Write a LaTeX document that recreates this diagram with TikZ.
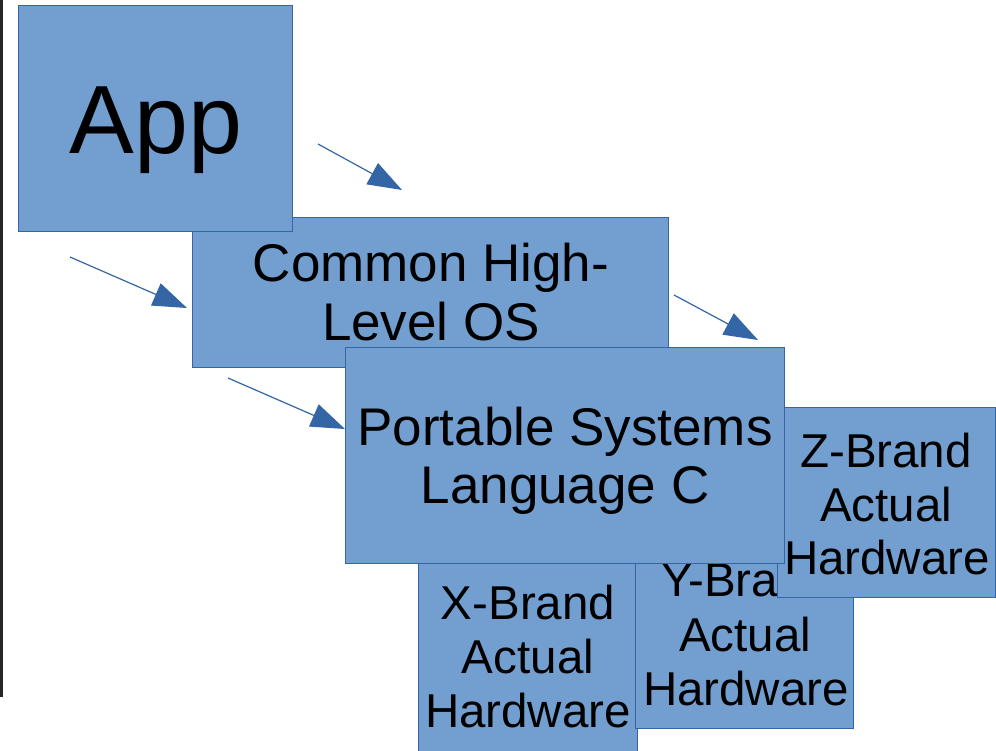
\documentclass[tikz,border=0pt]{standalone}
\usepackage{fontspec}
\setmainfont{Liberation Sans}
\usetikzlibrary{arrows.meta}
\definecolor{boxfill}{HTML}{729FCF}
\definecolor{boxline}{HTML}{3465A4}
\definecolor{strip}{HTML}{262626}
\tikzset{
  box/.style={draw=boxline, fill=boxfill, line width=1pt},
  lbl/.style={anchor=base, inner sep=0pt, text=black},
  big/.style={lbl, font=\fontsize{97}{110}\selectfont},
  mid/.style={lbl, font=\fontsize{53}{60}\selectfont},
  small/.style={lbl, font=\fontsize{47.5}{54}\selectfont},
  conn/.style={draw=boxline, line width=1.2pt, -{Triangle[length=34pt,width=24pt]}},
}
\begin{document}
\begin{tikzpicture}[x=1pt,y=-1pt]
\useasboundingbox (0,0) rectangle (996,750);
\fill[strip] (0,0) rectangle (3,697);
% X-Brand
\path[box] (418,540) rectangle (637,760);
\node[small] (x1) at (528,619) {X-Brand};
\node[small] (x2) at (528,673) {Actual};
\node[small] (x3) at (528,727) {Hardware};
% Y-Brand
\path[box] (635,540) rectangle (853,728);
\node[small] (y1) at (746,596) {Y-Brand};
\node[small] (y2) at (745,651) {Actual};
\node[small] (y3) at (746,705) {Hardware};
% Z-Brand
\path[box] (777,407) rectangle (995,597);
\node[small] (z1) at (886,467) {Z-Brand};
\node[small] (z2) at (886,521) {Actual};
\node[small] (z3) at (887,574) {Hardware};
% Common High-Level OS
\path[box] (192,217) rectangle (668,367);
\node[mid] (c1) at (431,281) {Common High-};
\node[mid] (c2) at (431,340) {Level OS};
% Portable Systems Language C
\path[box] (345,347) rectangle (784,563);
\node[mid] (p1) at (565,445) {Portable Systems};
\node[mid] (p2) at (565,503) {Language C};
% App
\path[box] (18,5) rectangle (292,231);
\node[big] (app) at (156,153) {App};
% arrows
\coordinate (a1s) at (318,144); \coordinate (a1e) at (402,190);
\coordinate (a2s) at (70,257);  \coordinate (a2e) at (187,308);
\coordinate (a3s) at (674,295); \coordinate (a3e) at (758,340);
\coordinate (a4s) at (228,378); \coordinate (a4e) at (345,429);
\draw[conn] (a1s) -- (a1e);
\draw[conn] (a2s) -- (a2e);
\draw[conn] (a3s) -- (a3e);
\draw[conn] (a4s) -- (a4e);
\end{tikzpicture}
\end{document}
